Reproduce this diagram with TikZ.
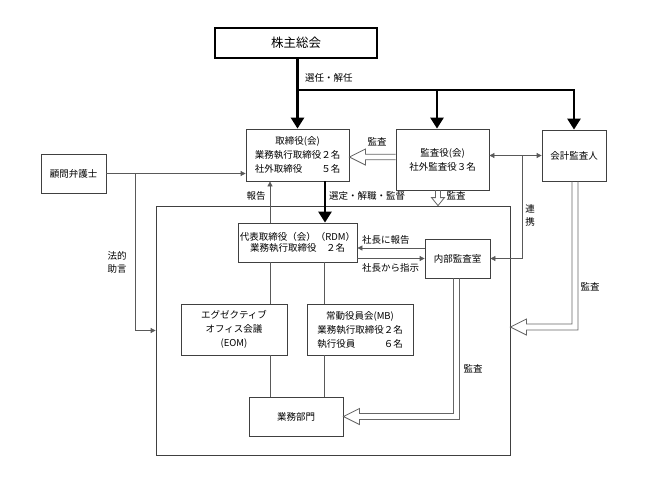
\documentclass[tikz,border=0pt]{standalone}
\usepackage{fontspec}
\setmainfont{Noto Sans CJK JP}
\usetikzlibrary{arrows.meta,calc}
\begin{document}
\begin{tikzpicture}[x=1pt,y=-1pt,
  box/.style={draw=black!75, line width=0.8pt, fill=white, align=center, inner sep=0pt, font=\fontsize{9.5}{14}\selectfont},
  lbl/.style={font=\fontsize{9.5}{13.5}\selectfont, inner sep=0pt, align=center},
  thinl/.style={draw=black!65, line width=0.8pt},
  arr/.style={thinl, -{Triangle[length=5pt,width=5pt]}},
  big/.style={line width=2.6pt, -{Triangle[length=11pt,width=13pt]}},
  hol/.style={draw=black!60, line width=0.8pt, line join=miter}
]
\useasboundingbox (0,0) rectangle (651,488);

% outer frame
\node[draw=black!75, line width=0.8pt, minimum width=354pt, minimum height=249pt, inner sep=0pt] (frame) at (333,330.5) {};

% boxes
\node[box, draw=black, line width=2.4pt, minimum width=162pt, minimum height=30pt, font=\fontsize{12.5}{14}\selectfont] (sh) at (296,43) {株主総会};
\node[box, minimum width=103pt, minimum height=52pt] (tori) at (297.5,155) {取締役(会)\\業務執行取締役２名\\社外取締役　　５名};
\node[box, minimum width=93pt, minimum height=61pt] (kan) at (442.5,159.5) {監査役(会)\\社外監査役３名};
\node[box, minimum width=64pt, minimum height=51pt] (kaikei) at (574,155.5) {会計監査人};
\node[box, minimum width=65pt, minimum height=39pt] (komon) at (73.5,173.5) {顧問弁護士};
\node[box, minimum width=119pt, minimum height=39pt, font=\fontsize{9.5}{11.5}\selectfont] (daihyo) at (297.5,242.5) {代表取締役（会）（RDM）\\業務執行取締役　２名};
\node[box, minimum width=65pt, minimum height=39pt] (naibu) at (457.5,258.5) {内部監査室};
\node[box, minimum width=106pt, minimum height=51pt] (eom) at (234,329.5) {エグゼクティブ\\オフィス会議\\(EOM)};
\node[box, minimum width=106pt, minimum height=51pt] (mb) at (360,329.5) {常動役員会(MB)\\業務執行取締役２名\\執行役員　　　６名};
\node[box, minimum width=94pt, minimum height=39pt] (gyomu) at (296,416.5) {業務部門};

% thick appointment arrows
\coordinate (row90) at (0,90);
\coordinate (kx) at (437,0);
\draw[big] (sh.south -| tori.north) -- (tori.north);
\draw[big] (tori.north |- row90) -| (kaikei.north);
\draw[big] (kx |- row90) -- (kx |- kan.north);
\draw[big] ($(tori.south)+(27.5,0)$) -- ($(daihyo.north)+(27.5,0)$);

% thin connectors
\draw[arr] ($(daihyo.north)+(-27.5,0)$) -- ($(tori.south)+(-27.5,0)$);
\draw[arr] (komon.east) -- (komon.east -| tori.west);
\coordinate (b1) at ($(komon.east)+(29,0)$);
\draw[arr] (b1) |- (frame.west);
\draw[thinl, {Triangle[length=5pt,width=5pt]}-{Triangle[length=5pt,width=5pt]}] (kan.east |- kaikei.west) -- (kaikei.west);
\coordinate (b2) at ($(kaikei.west)+(-19,0)$);
\draw[arr] (b2) |- (naibu.east);
\coordinate (r1) at ($(naibu.west)+(0,-10.5)$);
\draw[arr] (r1) -- (r1 -| daihyo.east);
\draw[arr] (daihyo.east |- naibu.west) -- (naibu.west);
\coordinate (xl) at (270,0);
\coordinate (xr) at (324.5,0);
\draw[thinl] (daihyo.south -| xl) -- (eom.north -| xl);
\draw[thinl] (eom.south -| xl) -- (gyomu.north -| xl);
\draw[thinl] (daihyo.south -| xr) -- (mb.north -| xr);
\draw[thinl] (mb.south -| xr) -- (gyomu.north -| xr);

% hollow audit arrows (outlines)
% 監査役 -> 取締役
\coordinate (t1) at ($(tori.east)+(0,2)$);
\coordinate (k1) at (kan.west |- t1);
\draw[hol] ($(k1)+(0,-2.75)$) -- ($(t1)+(16,-2.75)$) -- ($(t1)+(16,-8)$) -- (t1)
  -- ($(t1)+(16,8)$) -- ($(t1)+(16,2.75)$) -- ($(k1)+(0,2.75)$);
% 監査役 -> frame
\coordinate (s2) at ($(kan.south)+(-4.5,0)$);
\coordinate (t2) at (s2 |- frame.north);
\draw[hol] ($(s2)+(-2.5,0)$) -- ($(t2)+(-2.5,-8)$) -- ($(t2)+(-6.5,-8)$) -- (t2)
  -- ($(t2)+(6.5,-8)$) -- ($(t2)+(2.5,-8)$) -- ($(s2)+(2.5,0)$);
% 会計監査人 -> frame
\coordinate (s3) at ($(kaikei.south)+(1,0)$);
\coordinate (t3) at ($(frame.east)+(0,-3.5)$);
\coordinate (c3) at (s3 |- t3);
\draw[hol] ($(s3)+(-3,0)$) -- ($(c3)+(-3,-3)$) -- ($(t3)+(16,-3)$) -- ($(t3)+(16,-8)$) -- (t3)
  -- ($(t3)+(16,8)$) -- ($(t3)+(16,3)$) -- ($(c3)+(3,3)$) -- ($(s3)+(3,0)$);
% 内部監査室 -> 業務部門
\coordinate (s4) at ($(naibu.south)+(-1,0)$);
\coordinate (t4) at (gyomu.east);
\coordinate (c4) at (s4 |- t4);
\draw[hol] ($(s4)+(-3,0)$) -- ($(c4)+(-3,-3)$) -- ($(t4)+(16,-3)$) -- ($(t4)+(16,-8)$) -- (t4)
  -- ($(t4)+(16,8)$) -- ($(t4)+(16,3)$) -- ($(c4)+(3,3)$) -- ($(s4)+(3,0)$);

% labels
\node[lbl, anchor=west] (l1) at (305,78) {選任・解任};
\node[lbl] (l2) at (377,142) {監査};
\node[lbl] (l3) at (256,196) {報告};
\node[lbl, anchor=west] (l4) at (329,196) {選定・解職・監督};
\node[lbl] (l5) at (456,196) {監査};
\node[lbl] (l6) at (530,215.5) {連\\携};
\node[lbl] (l7) at (117,262.5) {法的\\助言};
\node[lbl] (l8) at (590,287) {監査};
\node[lbl, anchor=west] (l9) at (362,240) {社長に報告};
\node[lbl, anchor=west] (l10) at (362,268) {社長から指示};
\node[lbl] (l11) at (473,369) {監査};
\end{tikzpicture}
\end{document}
